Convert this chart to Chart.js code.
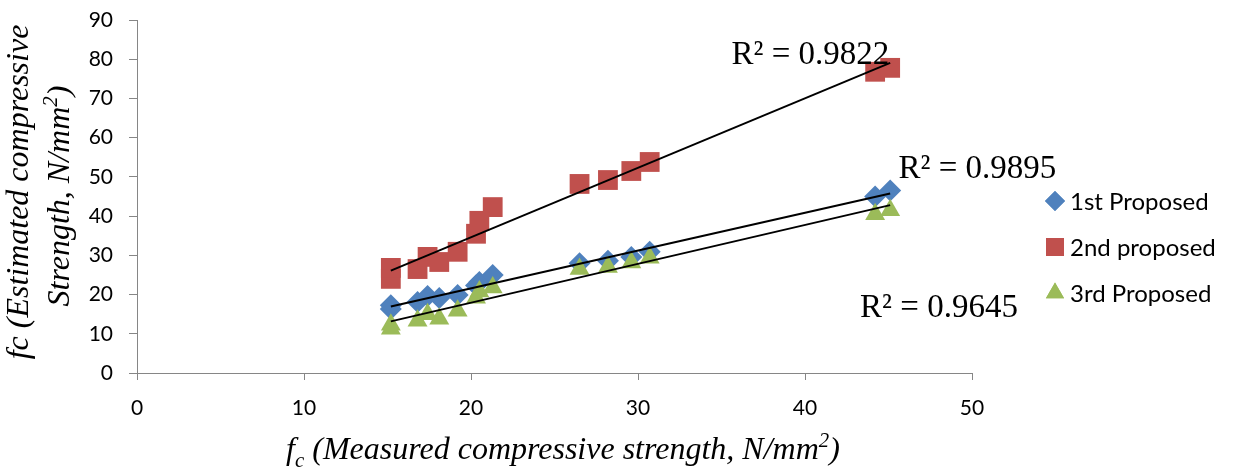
<!DOCTYPE html>
<html lang="en">
<head>
<meta charset="UTF-8" />
<title>Measured vs Estimated Compressive Strength</title>
<script src="https://cdn.jsdelivr.net/npm/chart.js"></script>
<style>
  html, body { margin: 0; padding: 0; background: #fff; }
  #wrap { width: 1238px; height: 474px; }
</style>
</head>
<body>
<div id="wrap"><canvas id="strengthChart"></canvas></div>
<script>
  // measured compressive strength (x), shared by all series
  const measured       = [15.2, 15.2, 16.8, 17.4, 18.1, 19.2, 20.3, 20.5, 21.3, 26.5, 28.2, 29.6, 30.7, 44.2, 45.1];
  const firstProposed  = [16.3, 17.3, 18.1, 19.6, 19.1, 19.9, 22.3, 23.2, 25.0, 28.0, 28.6, 29.6, 30.9, 45.0, 46.5];
  const secondProposed = [24.0, 26.8, 26.5, 29.6, 28.3, 30.9, 35.5, 38.8, 42.3, 48.2, 49.2, 51.5, 53.8, 76.8, 77.8];
  const thirdProposed  = [11.3, 12.3, 13.3, 15.0, 13.8, 15.9, 19.2, 20.8, 21.8, 26.5, 27.0, 28.2, 29.4, 40.5, 41.5];
  const seriesNames = ['1st Proposed', '2nd proposed', '3rd Proposed'];
  const rSquared = ['0.9895', '0.9822', '0.9645'];
  const xTicks = [0, 10, 20, 30, 40, 50];
  const yTicks = [0, 10, 20, 30, 40, 50, 60, 70, 80, 90];

  const colors = ['#4F81BD', '#C0504D', '#9BBB59'];
  const markers = [
    { style: 'rectRot', r: 11, legendR: 10 },
    { style: 'rect', r: 14, legendR: 12.7 },
    { style: 'triangle', r: 11.5, legendR: 10.5 }
  ];

  // least squares line, drawn between the smallest and largest x (like Excel)
  function trend(xs, ys) {
    const n = xs.length;
    const mx = xs.reduce((a, b) => a + b, 0) / n;
    const my = ys.reduce((a, b) => a + b, 0) / n;
    let sxy = 0, sxx = 0;
    xs.forEach((x, i) => { sxy += (x - mx) * (ys[i] - my); sxx += (x - mx) * (x - mx); });
    const slope = sxy / sxx, icpt = my - slope * mx;
    const lo = Math.min(...xs), hi = Math.max(...xs);
    return [{ x: lo, y: icpt + slope * lo }, { x: hi, y: icpt + slope * hi }];
  }

  const pts = ys => measured.map((x, i) => ({ x: x, y: ys[i] }));
  const allY = [firstProposed, secondProposed, thirdProposed];

  const datasets = [];
  allY.forEach((ys, i) => {
    datasets.push({
      label: seriesNames[i],
      data: pts(ys),
      pointStyle: markers[i].style,
      pointRadius: markers[i].r,
      pointHoverRadius: markers[i].r,
      pointBackgroundColor: colors[i],
      pointBorderWidth: 0,
      backgroundColor: colors[i],
      borderColor: colors[i],
      showLine: false,
      order: 3 - i,
      isSeries: true,
      legendR: markers[i].legendR
    });
  });
  allY.forEach((ys, i) => {
    datasets.push({
      label: 'trend ' + seriesNames[i],
      data: trend(measured, ys),
      showLine: true,
      borderColor: '#000',
      borderWidth: 2,
      pointRadius: 0,
      order: 0
    });
  });

  const serif = '"Liberation Serif", "Times New Roman", serif';

  // draw a run of text pieces (normal / sub / sup) centred on x
  function richText(ctx, parts, x, y, size) {
    const fontFor = p => 'italic ' + (p.small ? size * 0.65 : size) + 'px ' + serif;
    let total = 0;
    parts.forEach(p => { ctx.font = fontFor(p); total += ctx.measureText(p.t).width; });
    let cx = x - total / 2;
    ctx.textAlign = 'left';
    ctx.textBaseline = 'alphabetic';
    parts.forEach(p => {
      ctx.font = fontFor(p);
      ctx.fillText(p.t, cx, y + (p.dy || 0));
      cx += ctx.measureText(p.t).width;
    });
  }

  const extras = {
    id: 'extras',
    afterDraw(chart) {
      const ctx = chart.ctx;
      const xs = chart.scales.x, ys = chart.scales.y;
      ctx.save();
      ctx.fillStyle = '#000';

      // R² labels (left edge / baseline in data units)
      const rPos = [[45.6, 49.7], [35.6, 78.8], [43.3, 14.3]];
      ctx.font = '33px ' + serif;
      ctx.textAlign = 'left';
      ctx.textBaseline = 'alphabetic';
      rSquared.forEach((r, i) => {
        ctx.fillText('R\u00B2 = ' + r, xs.getPixelForValue(rPos[i][0]), ys.getPixelForValue(rPos[i][1]));
      });

      // x axis title
      richText(ctx, [
        { t: 'f' },
        { t: 'c', small: true, dy: 8 },
        { t: ' (Measured compressive strength, N/mm' },
        { t: '2', small: true, dy: -12 },
        { t: ')' }
      ], 563, 459, 32);

      // y axis title, two lines, rotated
      ctx.translate(0, 192);
      ctx.rotate(-Math.PI / 2);
      richText(ctx, [{ t: 'fc (Estimated compressive' }], 0, 28, 32);
      richText(ctx, [
        { t: 'Strength, N/mm' },
        { t: '2', small: true, dy: -12 },
        { t: ')' }
      ], -4, 69, 32);
      ctx.restore();

      // legend
      ctx.save();
      const items = chart.data.datasets.filter(d => d.isSeries);
      ctx.font = '24px Lato, sans-serif';
      ctx.textBaseline = 'middle';
      ctx.textAlign = 'left';
      items.forEach((d, i) => {
        const ly = 201 + i * 46;
        ctx.fillStyle = d.pointBackgroundColor;
        Chart.helpers.drawPoint(ctx, { pointStyle: d.pointStyle, radius: d.legendR, rotation: 0, borderWidth: 0 }, 1055, ly);
        ctx.fill();
        ctx.fillStyle = '#000';
        ctx.fillText(d.label, 1070, ly + 1);
      });
      ctx.restore();
    }
  };

  const axisGray = '#868686';
  new Chart(document.getElementById('strengthChart'), {
    type: 'scatter',
    data: { datasets: datasets },
    options: {
      responsive: true,
      maintainAspectRatio: false,
      animation: false,
      layout: { padding: { top: 20, right: 266, bottom: 0, left: 0 } },
      plugins: {
        legend: { display: false },
        tooltip: { enabled: false }
      },
      scales: {
        x: {
          type: 'linear',
          min: xTicks[0], max: xTicks[xTicks.length - 1],
          afterBuildTicks: s => { s.ticks = xTicks.map(v => ({ value: v })); },
          afterFit: s => { s.height = 101; },
          grid: { drawOnChartArea: false, drawTicks: true, tickLength: 7, color: axisGray },
          border: { display: true, color: axisGray, width: 1 },
          ticks: { color: '#000', padding: 16, font: { family: 'Lato', size: 21 } }
        },
        y: {
          type: 'linear',
          min: yTicks[0], max: yTicks[yTicks.length - 1],
          afterBuildTicks: s => { s.ticks = yTicks.map(v => ({ value: v })); },
          afterFit: s => { s.width = 137; s.paddingTop = 0; },
          grid: { drawOnChartArea: false, drawTicks: true, tickLength: 8, color: axisGray },
          border: { display: true, color: axisGray, width: 1 },
          ticks: { color: '#000', padding: 16, font: { family: 'Lato', size: 21 } }
        }
      }
    },
    plugins: [extras]
  });
</script>
</body>
</html>
